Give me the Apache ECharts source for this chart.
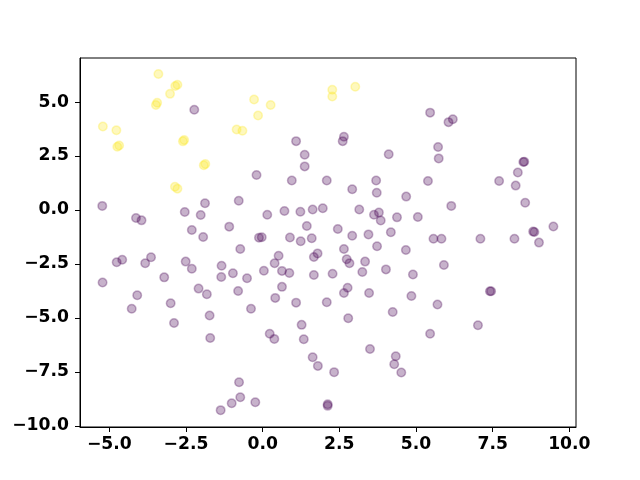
<!DOCTYPE html>
<html>
<head>
<meta charset="utf-8">
<script src="https://cdn.jsdelivr.net/npm/echarts@6/dist/echarts.min.js"></script>
<style>
html,body{margin:0;padding:0;background:#fff;}
#chart{width:640px;height:480px;}
</style>
</head>
<body>
<div id="chart"></div>
<script>
// class 0 (purple) points [x, y]
var class0 = [
[-2.23,4.64],[-5.23,0.19],[-4.13,-0.37],[-3.95,-0.48],[-2.54,-0.09],[-2.02,-0.23],[-1.88,0.31],[-2.31,-0.93],
[-1.94,-1.25],[-0.78,0.43],[-1.09,-0.77],[-0.20,1.62],[-0.12,-1.28],[-0.03,-1.26],[-0.73,-1.81],[0.15,-0.22],
[0.71,-0.05],[1.23,-0.08],[1.63,0.02],[1.96,0.08],[0.95,1.37],[1.09,3.19],[1.37,2.56],[1.37,2.02],
[1.44,-0.74],[0.89,-1.27],[1.24,-1.45],[1.60,-1.31],[2.09,1.37],[5.46,4.51],[6.06,4.07],[6.20,4.20],
[2.65,3.39],[2.61,3.19],[5.72,2.92],[5.74,2.39],[4.11,2.58],[2.92,0.96],[3.70,1.37],[3.72,0.80],
[4.68,0.62],[5.39,1.34],[6.15,0.19],[7.71,1.34],[8.25,1.13],[8.32,1.74],[8.50,2.22],[8.53,2.24],
[8.56,0.34],[9.48,-0.76],[8.82,-1.00],[8.86,-1.02],[9.01,-1.51],[8.21,-1.33],[7.10,-1.33],[5.57,-1.33],
[5.83,-1.33],[5.06,-0.32],[4.38,-0.34],[3.85,-0.49],[3.63,-0.22],[3.79,-0.12],[3.15,0.02],[2.45,-0.88],
[2.92,-1.19],[3.45,-1.13],[4.18,-1.03],[3.73,-1.68],[4.67,-1.85],[2.65,-1.81],
[-5.22,-3.36],[-4.76,-2.42],[-4.58,-2.30],[-4.09,-3.95],[-4.27,-4.57],[-3.83,-2.47],[-3.64,-2.19],[-3.21,-3.12],
[-3.00,-4.32],[-2.89,-5.23],[-2.51,-2.39],[-2.31,-2.72],[-2.09,-3.64],[-1.82,-3.90],[-1.73,-4.89],[-1.71,-5.93],
[-1.34,-2.58],[-1.35,-3.10],[-0.97,-2.93],[-0.80,-3.75],[-0.51,-3.16],[-0.38,-4.57],[0.04,-2.81],[0.39,-2.47],
[0.52,-2.12],[0.63,-2.82],[0.87,-2.92],[0.63,-3.56],[0.41,-4.07],[1.09,-4.29],[0.23,-5.73],[0.38,-5.97],
[1.27,-5.32],[1.34,-5.99],[1.67,-2.18],[1.79,-2.01],[1.67,-3.01],[2.09,-4.27],[1.63,-6.82],[1.80,-7.22],
[-0.77,-7.98],[-0.73,-8.67],[-1.01,-8.95],[-1.37,-9.27],[-0.24,-8.90],[2.12,-9.00],[2.12,-9.07],[2.28,-2.95],
[2.74,-2.28],[2.83,-2.47],[3.34,-2.39],[3.25,-2.87],[4.02,-2.75],[4.90,-2.99],[5.91,-2.55],[2.77,-3.60],
[2.65,-3.84],[3.47,-3.84],[2.79,-5.01],[4.24,-4.72],[4.85,-3.98],[5.70,-4.38],[5.46,-5.73],[7.02,-5.34],
[7.41,-3.76],[7.45,-3.76],[3.50,-6.44],[4.34,-6.77],[4.29,-7.14],[4.52,-7.53],[2.33,-7.51]
];
// class 1 (yellow) points [x, y]
var class1 = [
[-3.40,6.30],[-2.78,5.80],[-2.85,5.74],[-3.02,5.38],[-3.44,4.97],[-3.48,4.86],[-5.21,3.87],[-4.77,3.69],
[-4.68,2.99],[-4.74,2.93],[-2.56,3.24],[-2.60,3.18],[-1.92,2.07],[-1.87,2.13],[-2.86,1.08],[-2.78,0.99],
[-0.28,5.12],[0.26,4.86],[-0.15,4.38],[-0.85,3.73],[-0.66,3.67],[2.27,5.57],[2.27,5.26],[3.02,5.71]
];
var xTicks = [-5, -2.5, 0, 2.5, 5, 7.5, 10];
var yTicks = [-10, -7.5, -5, -2.5, 0, 2.5, 5];
var xRange = [-5.956, 10.217];
var yRange = [-10.05, 7.04];

function fmt(v){ var s = Math.abs(v).toFixed(1); return v < 0 ? '\u2212' + s : s; }

var font = {fontFamily: 'DejaVu Sans', fontWeight: 'bold', fontSize: 17.2, color: '#000'};

var chart = echarts.init(document.getElementById('chart'), null, {renderer: 'canvas'});
chart.setOption({
  animation: false,
  backgroundColor: '#fff',
  grid: {left: 80, right: 64, top: 58, bottom: 53, show: true, borderColor: '#000', borderWidth: 1, backgroundColor: 'transparent'},
  xAxis: {
    type: 'value', min: xRange[0], max: xRange[1],
    splitLine: {show: false},
    axisLine: {show: true, onZero: false, lineStyle: {color: '#000', width: 1}},
    axisTick: {show: true, inside: false, length: 5, lineStyle: {color: '#000', width: 1}, customValues: xTicks},
    axisLabel: Object.assign({margin: 9, customValues: xTicks, formatter: fmt}, font)
  },
  yAxis: {
    type: 'value', min: yRange[0], max: yRange[1],
    splitLine: {show: false},
    axisLine: {show: true, onZero: false, lineStyle: {color: '#000', width: 1}},
    axisTick: {show: true, inside: false, length: 5, lineStyle: {color: '#000', width: 1}, customValues: yTicks},
    axisLabel: Object.assign({margin: 11, customValues: yTicks, formatter: fmt}, font)
  },
  series: [
    {type: 'scatter', data: class0, symbolSize: 8.5, itemStyle: {color: '#440154', borderColor: '#440154', borderWidth: 1.5, opacity: 0.3}},
    {type: 'scatter', data: class1, symbolSize: 8.5, itemStyle: {color: '#fde725', borderColor: '#fde725', borderWidth: 1.5, opacity: 0.3}}
  ]
});
</script>
</body>
</html>
